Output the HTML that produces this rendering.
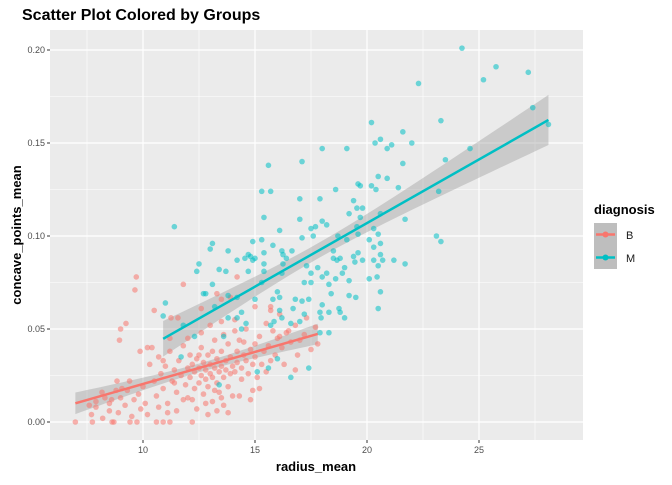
<!DOCTYPE html>
<html><head><meta charset="utf-8">
<style>
body{margin:0;background:#fff;font-family:"Liberation Sans",Arial,sans-serif;}
svg text{font-family:"Liberation Sans",Arial,sans-serif;}
</style></head>
<body>
<svg id="chart" width="672" height="480" xmlns="http://www.w3.org/2000/svg">
<rect width="672" height="480" fill="#fff"/>
<text x="22" y="20" font-size="16" font-weight="bold" fill="#000">Scatter Plot Colored by Groups</text>
<rect x="50" y="30" width="533" height="410" fill="#EBEBEB"/>
<g id="grid"></g>
<g id="ribbons"></g>
<g id="points"></g>
<g id="lines"></g>
<g id="axes"></g>
<text x="316" y="471" font-size="13" font-weight="bold" text-anchor="middle">radius_mean</text>
<text transform="translate(21,235) rotate(-90)" font-size="13" font-weight="bold" text-anchor="middle">concave_points_mean</text>
<g>
<text x="594" y="214" font-size="13" font-weight="bold">diagnosis</text>
<g>
<rect x="594" y="223" width="23" height="23" fill="#BEBEBE"/>
<line x1="596" y1="234.5" x2="615" y2="234.5" stroke="#F8766D" stroke-width="2.5"/>
<circle cx="605.5" cy="234.5" r="3" fill="#F8766D"/>
<text x="626" y="239" font-size="11" fill="#1a1a1a">B</text></g>
<g>
<rect x="594" y="246" width="23" height="23" fill="#BEBEBE"/>
<line x1="596" y1="257.5" x2="615" y2="257.5" stroke="#00BFC4" stroke-width="2.5"/>
<circle cx="605.5" cy="257.5" r="3" fill="#00BFC4"/>
<text x="626" y="262" font-size="11" fill="#1a1a1a">M</text></g>
</g>
</svg>
<script>
const xTicks=[10,15,20,25];
const yTicks=[0,0.05,0.10,0.15,0.20];
const yTickLabels=["0.00","0.05","0.10","0.15","0.20"];
const bX=[6.98,7.74,8.62,8.7,9.42,9.73,10.6,10.9,11.2,12.2,9.7,9.64,9.0,8.95,9.24,10.5,11.25,11.56,11.8,14.2,12.6,13.3,13.5,13.9,13.0,13.5,14.1,14.5,15.0,15.7,15.7,16.5,16.1,17.8,16.8,9.87,10.2,8.17,7.6,8.84,8.5,9.06,
7.7,7.9,8.2,8.5,8.6,8.9,9.0,9.2,9.3,9.5,9.6,9.8,9.9,10.0,10.1,9.4,8.8,10.2,7.9,8.3,
10.3,10.5,10.6,10.7,10.8,10.9,11.0,11.1,11.2,11.3,11.4,11.5,11.6,11.7,11.8,11.9,12.0,12.0,10.4,11.1,11.5,10.7,12.1,11.2,10.9,11.4,11.8,
12.1,12.2,12.3,12.3,12.4,12.5,12.5,12.6,12.6,12.7,12.7,12.8,12.8,12.9,12.9,13.0,13.0,13.1,13.1,13.2,13.2,13.3,13.3,13.4,13.4,13.5,13.5,13.6,13.6,13.7,13.7,13.8,13.8,13.9,13.9,14.0,14.0,12.4,12.9,13.3,13.8,12.2,13.5,12.0,12.6,13.1,12.5,13.6,12.8,13.2,
14.1,14.2,14.2,14.3,14.4,14.4,14.5,14.6,14.6,14.7,14.8,14.9,14.9,15.0,15.0,15.1,15.2,15.3,15.4,15.5,15.6,15.7,15.8,15.9,16.0,14.3,14.8,15.2,14.1,15.5,
16.2,16.4,16.6,16.8,17.0,17.2,17.5,16.3,16.9,17.7,16.1,17.3];
const bY=[0,0,0,0,0,0,0,0,0,0,0.078,0.071,0.050,0.044,0.053,0.060,0.056,0.056,0.074,0.078,0.061,0.069,0.066,0.067,0.052,0.054,0.049,0.043,0.062,0.060,0.062,0.049,0.046,0.042,0.028,0.038,0.040,0.016,0.009,0.022,0.010,0.018,
0.004,0.008,0.002,0.006,0.012,0.005,0.013,0.009,0.017,0.003,0.012,0.015,0.007,0.019,0.010,0.022,0.017,0.004,0.011,0.013,
0.031,0.022,0.014,0.035,0.026,0.018,0.030,0.010,0.038,0.022,0.028,0.016,0.033,0.025,0.041,0.020,0.029,0.013,0.040,0.005,0.006,0.008,0.036,0.045,0.033,0.021,0.012,
0.024,0.031,0.018,0.027,0.034,0.021,0.029,0.025,0.040,0.015,0.032,0.023,0.028,0.036,0.019,0.026,0.031,0.011,0.024,0.029,0.044,0.021,0.034,0.027,0.016,0.030,0.038,0.024,0.009,0.033,0.028,0.019,0.042,0.026,0.035,0.030,0.014,0.007,0.004,0.006,0.005,0.012,0.013,0.045,0.048,0.038,0.036,0.047,0.010,0.017,
0.027,0.038,0.032,0.044,0.029,0.023,0.036,0.033,0.050,0.026,0.039,0.031,0.017,0.042,0.035,0.024,0.046,0.031,0.038,0.027,0.041,0.033,0.049,0.036,0.045,0.014,0.012,0.018,0.055,0.053,
0.040,0.048,0.043,0.052,0.044,0.047,0.039,0.031,0.036,0.051,0.058,0.056];
const mX=[24.24,25.76,25.2,27.2,27.4,28.1,22.3,23.3,20.2,23.5,24.6,23.2,23.1,23.3,21.6,22.0,20.36,20.6,20.9,21.1,18.0,19.1,17.1,15.6,15.3,15.7,21.6,20.5,20.9,19.6,19.7,20.2,20.4,21.4,18.6,17.0,17.9,19.4,19.2,19.55,19.8,19.7,21.7,20.6,15.4,17.0,16.1,17.5,17.7,18.0,18.2,17.1,17.6,18.7,19.1,19.55,19.6,20.3,20.5,11.4,13.1,13.0,13.8,14.9,15.3,15.8,14.7,14.8,15.0,14.2,14.55,15.4,16.2,16.65,16.25,16.4,12.5,12.4,13.4,13.7,14.7,15.4,15.4,16.25,16.2,17.3,17.8,17.5,18.5,18.5,18.8,18.66,19.4,19.46,19.6,19.8,20.1,20.3,20.6,20.3,20.6,20.7,21.2,21.7,20.5,19.0,18.9,19.2,19.2,19.5,20.1,20.45,20.6,20.5,18.0,18.2,18.6,18.3,18.4,18.0,18.3,18.75,18.8,19.0,17.95,17.2,17.5,16.8,17.1,17.4,17.2,16.7,16.6,17.0,16.0,16.1,16.1,16.2,15.85,15.7,15.8,15.0,14.9,15.3,13.1,12.7,12.8,11.0,10.9,11.8,12.3,13.2,13.8,14.2,13.8,14.2,14.4,14.6,14.4,13.6,17.9,16.0,15.6,17.4,16.6,15.1,13.4,11.7,18.3,17.9];
const mY=[0.201,0.191,0.184,0.188,0.169,0.160,0.182,0.162,0.161,0.141,0.147,0.124,0.100,0.097,0.156,0.150,0.150,0.152,0.147,0.149,0.147,0.147,0.140,0.138,0.124,0.124,0.139,0.132,0.131,0.128,0.127,0.127,0.125,0.126,0.125,0.120,0.120,0.119,0.112,0.115,0.115,0.110,0.109,0.112,0.110,0.109,0.103,0.104,0.105,0.108,0.106,0.099,0.100,0.100,0.098,0.105,0.101,0.104,0.101,0.105,0.096,0.093,0.092,0.097,0.098,0.095,0.090,0.089,0.088,0.087,0.088,0.091,0.092,0.092,0.090,0.088,0.085,0.081,0.082,0.081,0.081,0.085,0.081,0.085,0.080,0.084,0.083,0.080,0.092,0.088,0.088,0.087,0.089,0.086,0.091,0.087,0.098,0.094,0.096,0.087,0.090,0.087,0.087,0.085,0.084,0.083,0.080,0.076,0.068,0.067,0.077,0.078,0.070,0.061,0.078,0.080,0.077,0.074,0.069,0.063,0.059,0.061,0.059,0.056,0.056,0.075,0.075,0.066,0.065,0.066,0.058,0.061,0.053,0.054,0.070,0.067,0.060,0.056,0.054,0.052,0.066,0.066,0.087,0.075,0.074,0.069,0.069,0.064,0.057,0.052,0.046,0.062,0.068,0.067,0.056,0.056,0.059,0.053,0.050,0.046,0.048,0.034,0.029,0.029,0.024,0.027,0.020,0.035,0.048,0.059];

const NS="http://www.w3.org/2000/svg";
const X0=50,X1=583,Y0=30,Y1=440;
function sx(v){return 143+(v-10)*22.4;}
function sy(v){return 422-v*1860;}
function mk(tag,attrs,parent){const e=document.createElementNS(NS,tag);for(const k in attrs)e.setAttribute(k,attrs[k]);parent.appendChild(e);return e;}
const grid=document.getElementById('grid'),axes=document.getElementById('axes');
for(let i=0;i<xTicks.length;i++){
  const m=xTicks[i]-2.5;const px=sx(m);
  if(px>X0&&px<X1){const l=mk('line',{x1:px,x2:px,y1:Y0,y2:Y1,stroke:'#fff','stroke-width':0.6},grid);
  
  }
}
{const px=sx(xTicks[xTicks.length-1]+2.5);if(px<X1){const l=mk('line',{x1:px,x2:px,y1:Y0,y2:Y1,stroke:'#fff','stroke-width':0.6},grid);

}}
for(let i=0;i<yTicks.length-1;i++){const py=sy((yTicks[i]+yTicks[i+1])/2);
  const l=mk('line',{x1:X0,x2:X1,y1:py,y2:py,stroke:'#fff','stroke-width':0.6},grid);
  
  }
xTicks.forEach(v=>{const px=sx(v);
  const l=mk('line',{x1:px,x2:px,y1:Y0,y2:Y1,stroke:'#fff','stroke-width':1.2},grid);
  
  
  const t=mk('line',{x1:px,x2:px,y1:Y1,y2:Y1+3,stroke:'#333','stroke-width':1},axes);
  
  
  const tx=mk('text',{x:px,y:Y1+13,'font-size':9,'text-anchor':'middle',fill:'#4d4d4d'},axes);tx.textContent=v;
  
  });
yTicks.forEach((v,i)=>{const py=sy(v);
  const l=mk('line',{x1:X0,x2:X1,y1:py,y2:py,stroke:'#fff','stroke-width':1.2},grid);
  
  
  const t=mk('line',{x1:X0-3,x2:X0,y1:py,y2:py,stroke:'#333','stroke-width':1},axes);
  
  
  const tx=mk('text',{x:X0-5,y:py+3,'font-size':9,'text-anchor':'end',fill:'#4d4d4d'},axes);tx.textContent=yTickLabels[i];
  
  });

const pts=document.getElementById('points');
function drawPts(xs,ys,col,name){for(let i=0;i<xs.length;i++){
  const c=mk('circle',{cx:sx(xs[i]),cy:sy(ys[i]),r:2.8,fill:col,'fill-opacity':0.55},pts);
  
  }}
drawPts(bX,bY,'#F8766D','point-b');
drawPts(mX,mY,'#00BFC4','point-m');

function fit(xs,ys){const n=xs.length;let mx=0,my=0;for(let i=0;i<n;i++){mx+=xs[i];my+=ys[i];}mx/=n;my/=n;
  let sxx=0,sxy=0;for(let i=0;i<n;i++){sxx+=(xs[i]-mx)**2;sxy+=(xs[i]-mx)*(ys[i]-my);}
  const b=sxy/sxx,a=my-b*mx;let rss=0;for(let i=0;i<n;i++)rss+=(ys[i]-a-b*xs[i])**2;
  const s=Math.sqrt(rss/(n-2));return{a,b,s,n,mx,sxx,lo:Math.min(...xs),hi:Math.max(...xs)};}
function drawFit(xs,ys,col,name){const f=fit(xs,ys);const up=[],dn=[];const N=40;
  for(let k=0;k<=N;k++){const x=f.lo+(f.hi-f.lo)*k/N;const y=f.a+f.b*x;
    const se=1.97*f.s*Math.sqrt(1/f.n+(x-f.mx)**2/f.sxx);
    up.push(sx(x)+','+sy(y+se));dn.unshift(sx(x)+','+sy(y-se));}
  const r=mk('polygon',{points:up.concat(dn).join(' '),fill:'#999','fill-opacity':0.4},document.getElementById('ribbons'));
  
  
  const l=mk('line',{x1:sx(f.lo),y1:sy(f.a+f.b*f.lo),x2:sx(f.hi),y2:sy(f.a+f.b*f.hi),stroke:col,'stroke-width':2.5},document.getElementById('lines'));
  
  }
drawFit(bX,bY,'#F8766D','b');
drawFit(mX,mY,'#00BFC4','m');
</script>
</body></html>
